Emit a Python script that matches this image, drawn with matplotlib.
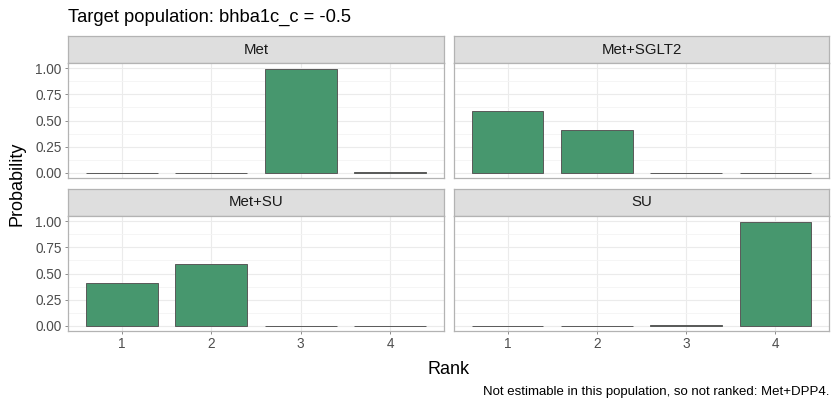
import matplotlib
matplotlib.use("Agg")
import matplotlib.pyplot as plt

plt.rcParams['font.family'] = ['Liberation Sans', 'DejaVu Sans']

# data
ranks = [1, 2, 3, 4]
treatments = ["Met", "Met+SGLT2", "Met+SU", "SU"]
prob_met = [0.0, 0.0, 0.995, 0.005]
prob_met_sglt2 = [0.59, 0.41, 0.0, 0.0]
prob_met_su = [0.41, 0.59, 0.0, 0.0]
prob_su = [0.0, 0.0, 0.005, 0.995]
y_ticks = [0.0, 0.25, 0.5, 0.75, 1.0]
y_ticklabels = ["0.00", "0.25", "0.50", "0.75", "1.00"]
title = "Target population: bhba1c_c = -0.5"
caption = "Not estimable in this population, so not ranked: Met+DPP4."

probs = [prob_met, prob_met_sglt2, prob_met_su, prob_su]

W, H = 840, 408
fig = plt.figure(figsize=(W / 100, H / 100), dpi=100)


def fx(px):
    return px / W


def fy(py):
    return 1 - py / H


bar_fill = "#47976E"
bar_edge = "#595959"
border = "#B3B3B3"
grid_col = "#EBEBEB"
strip_fill = "#DEDEDE"

cols = [(68, 444), (454, 829)]
rows = [(36, 63, 178), (189, 216, 331)]  # strip top, panel top, panel bottom

for k, (name, vals) in enumerate(zip(treatments, probs)):
    r, c = divmod(k, 2)
    x0, x1 = cols[c]
    s_top, p_top, p_bot = rows[r]

    # strip
    sax = fig.add_axes([fx(x0), fy(p_top), fx(x1 - x0), (p_top - s_top) / H])
    sax.set_facecolor(strip_fill)
    sax.set_xticks([])
    sax.set_yticks([])
    for sp in sax.spines.values():
        sp.set_color(border)
        sp.set_linewidth(0.9)
    sax.text(0.5, 0.5, name, ha="center", va="center", fontsize=10.8,
             color="#1A1A1A", transform=sax.transAxes)

    # panel
    ax = fig.add_axes([fx(x0), fy(p_bot), fx(x1 - x0), (p_bot - p_top) / H])
    ax.set_xlim(0.4, 4.6)
    ax.set_ylim(-0.05, 1.05)
    ax.set_yticks(y_ticks)
    ax.set_yticks([0.125, 0.375, 0.625, 0.875], minor=True)
    ax.set_xticks(ranks)
    ax.grid(True, which="major", color=grid_col, linewidth=0.8)
    ax.grid(True, which="minor", axis="y", color="#F4F4F4", linewidth=0.6)
    ax.set_axisbelow(True)
    ax.bar(ranks, vals, width=0.8, color=bar_fill, edgecolor=bar_edge,
           linewidth=0.7, zorder=3)
    for sp in ax.spines.values():
        sp.set_color(border)
        sp.set_linewidth(0.9)
    ax.tick_params(which="minor", length=0)
    ax.tick_params(which="major", length=2.5, width=0.7, color="#8C8C8C",
                   labelsize=9.8, labelcolor="#4D4D4D", pad=2)
    if c == 0:
        ax.set_yticklabels(y_ticklabels)
    else:
        ax.tick_params(axis="y", length=0, labelleft=False)
    if r == 0:
        ax.tick_params(axis="x", length=0, labelbottom=False)
    else:
        ax.set_xticklabels([str(v) for v in ranks])

fig.text(fx(68), fy(22), title, ha="left", va="baseline", fontsize=13.2,
         color="#000000")
fig.text(fx(17), fy(183.5), "Probability", ha="center", va="center",
         rotation=90, fontsize=13, color="#000000")
fig.text(fx(448.5), fy(369), "Rank", ha="center", va="center",
         fontsize=13, color="#000000")
fig.text(fx(829), fy(392), caption, ha="right", va="center",
         fontsize=9.5, color="#000000")

fig.savefig("out.png", dpi=100)
